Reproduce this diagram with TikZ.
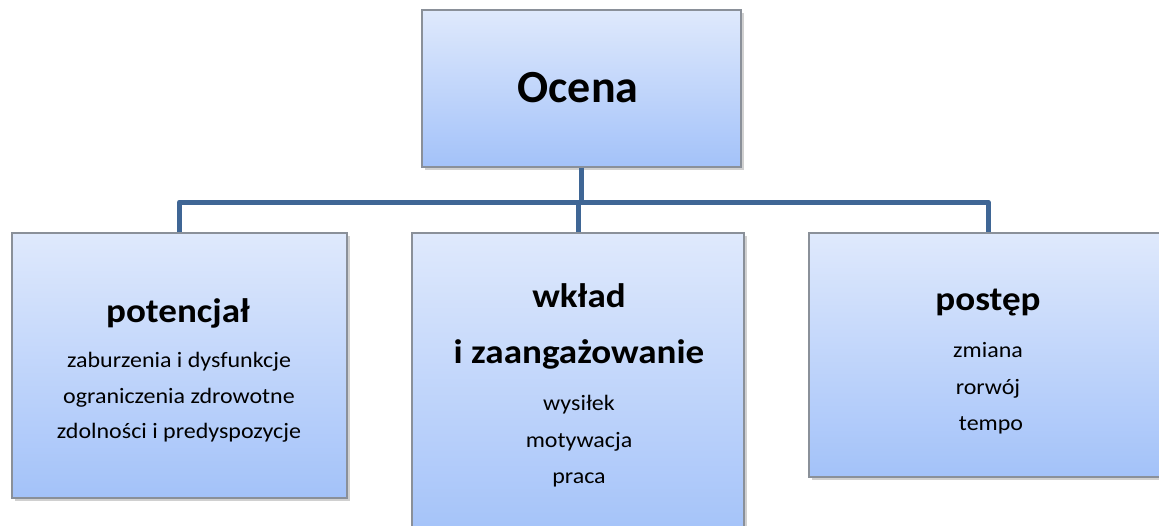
\documentclass[tikz,border=0pt]{standalone}
\usepackage{fontspec}
\setmainfont{Carlito}
\newfontfamily\widefont{Carlito}[FakeStretch=1.09]
\usetikzlibrary{shadows}
\definecolor{boxtop}{HTML}{DFE9FC}
\definecolor{boxbot}{HTML}{A3C2F9}
\definecolor{boxedge}{HTML}{8A9099}
\definecolor{connblue}{HTML}{3F6695}
\tikzset{
  box/.style={draw=boxedge, line width=1.2pt, top color=boxtop, bottom color=boxbot,
    drop shadow={shadow xshift=2.5pt, shadow yshift=-3pt, opacity=0.3, fill=black!60},
    inner sep=0pt, rectangle},
  conn/.style={draw=connblue, line width=5pt, line join=round},
  txt/.style={anchor=base, inner sep=0pt, text=black},
  bigtitle/.style={txt, font=\fontsize{46}{50}\selectfont\bfseries},
  headtxt/.style={txt, font=\widefont\fontsize{34}{38}\selectfont\bfseries},
  bodytxt/.style={txt, font=\widefont\fontsize{22}{26}\selectfont}
}
\begin{document}
\begin{tikzpicture}[x=1pt,y=-1pt]
\clip (0,0) rectangle (1159,525);
\fill[white] (0,0) rectangle (1159,525);
% boxes
\node[box, minimum width=319pt, minimum height=157pt] (top) at (581.5,88.5) {};
\node[box, minimum width=335pt, minimum height=265pt] (left) at (179.5,365.5) {};
\node[box, minimum width=332pt, minimum height=307pt] (mid) at (578,386.5) {};
\node[box, minimum width=358pt, minimum height=244pt] (right) at (988,355) {};
% connectors
\coordinate (j) at (580,202);
\draw[conn] (top.south) -- (top.south |- j);
\draw[conn] (left.north) -- (left.north |- j) -| (right.north);
\draw[conn] (mid.north) -- (mid.north |- j);
% texts
\node[bigtitle] (tOcena) at (578,102) {Ocena};
\node[headtxt] (tPot) at (178,322) {potencjał};
\node[bodytxt] (tP1) at (179,367) {zaburzenia i dysfunkcje};
\node[bodytxt] (tP2) at (179,403) {ograniczenia zdrowotne};
\node[bodytxt] (tP3) at (179,438) {zdolności i predyspozycje};
\node[headtxt] (tW1) at (579,307) {wkład};
\node[headtxt] (tW2) at (579,363) {i zaangażowanie};
\node[bodytxt] (tW3) at (579,410) {wysiłek};
\node[bodytxt] (tW4) at (579,447) {motywacja};
\node[bodytxt] (tW5) at (579,483) {praca};
\node[headtxt] (tPs) at (988,310) {postęp};
\node[bodytxt] (tS1) at (988,357) {zmiana};
\node[bodytxt] (tS2) at (988,394) {rorwój};
\node[bodytxt] (tS3) at (991,430) {tempo};
\end{tikzpicture}
\end{document}
